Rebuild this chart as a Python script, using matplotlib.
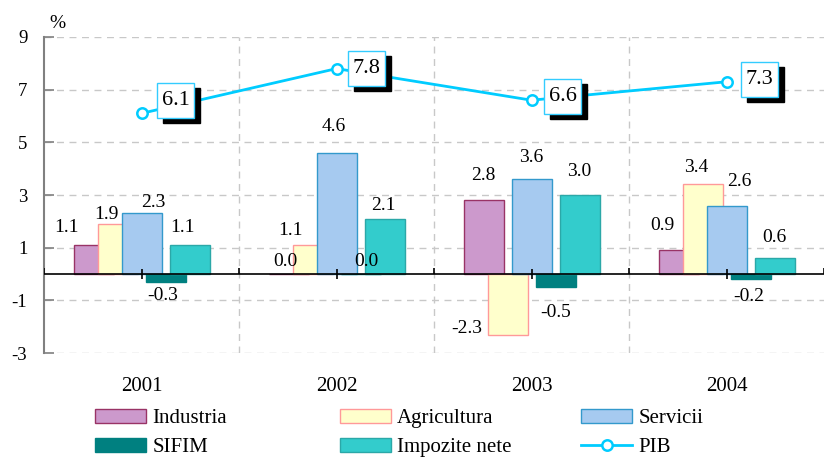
import numpy as np
import matplotlib
matplotlib.use("Agg")
import matplotlib.pyplot as plt
from matplotlib.patches import Patch
from matplotlib.lines import Line2D
from matplotlib.path import Path

plt.rcParams['font.family'] = ['Liberation Serif', 'DejaVu Serif']
plt.rcParams['axes.unicode_minus'] = False

# data
years = ['2001', '2002', '2003', '2004']
industria = [1.1, 0.0, 2.8, 0.9]
agricultura = [1.9, 1.1, -2.3, 3.4]
servicii = [2.3, 4.6, 3.6, 2.6]
sifim = [-0.3, 0.0, -0.5, -0.2]
impozite = [1.1, 2.1, 3.0, 0.6]
pib = [6.1, 7.8, 6.6, 7.3]

names = ['Industria', 'Agricultura', 'Servicii', 'SIFIM', 'Impozite nete']
series = [industria, agricultura, servicii, sifim, impozite]
fills = ['#CC99CC', '#FFFFCC', '#A6CAF0', '#008080', '#33CCCC']
edges = ['#993366', '#FF9999', '#3399CC', '#008080', '#2BA8A8']

# hand nudges for the value labels (pixels, dx / dy up), per series per year
nudges = [
    [(-27, -6), (-3, -11), (0, 1), (-16, 1)],
    [(-11, -15), (-22, -9), (-41, 30), (-6, -7)],
    [(12, -13), (-3, 2), (0, -2), (13, 0)],
    [(-3, 10), (6, -11), (0, -1), (-2, 7)],
    [(-7, -6), (-1, -11), (0, -1), (0, -3)],
]
pib_off = [(34, 13), (30, 0), (31, 4), (33, 2)]


def tall_box(x0, y0, width, height, mutation_size):
    # box a bit taller than the text, like the excel callouts
    px, py = 0.2 * mutation_size, 0.36 * mutation_size
    x0, y0 = x0 - px, y0 - py
    x1, y1 = x0 + width + 2 * px, y0 + height + 2 * py
    return Path([(x0, y0), (x1, y0), (x1, y1), (x0, y1), (x0, y0)], closed=True)


W, H = 824, 458
fig = plt.figure(figsize=(W / 100, H / 100), dpi=100)
ax = fig.add_axes([44 / W, 1 - 353 / H, 780 / W, 316 / H])

centers = np.arange(len(years)) + 0.5
step = 24 / 195
width = 40 / 195

for i, (nm, vals) in enumerate(zip(names, series)):
    xs = centers + (i - 2) * step
    ax.bar(xs, vals, width=width, color=fills[i], edgecolor=edges[i],
           linewidth=1, zorder=3 + i * 0.1)
    for j, v in enumerate(vals):
        dx, dy = nudges[i][j]
        base = 24 if v >= 0 else -24
        ax.annotate(f'{v:.1f}', (xs[j], v), xytext=(dx, base + dy),
                    textcoords='offset pixels', ha='center', va='center',
                    fontsize=14, zorder=6)

# zero line with its ticks
ax.axhline(0, color='black', lw=1.2, zorder=4)
ax.plot(np.arange(len(years) + 1), np.zeros(len(years) + 1), ls='none',
        marker=2, ms=4.5, mew=1.2, color='black', zorder=4)
ax.plot(centers, np.zeros(len(years)), ls='none', marker='|', ms=7.5,
        mew=1.2, color='black', zorder=4)

# PIB line
ax.plot(centers, pib, color='#00CCFF', lw=2, marker='o', ms=7.5,
        mfc='white', mec='#00CCFF', mew=1.8, zorder=7)
for j, v in enumerate(pib):
    dx, dy = pib_off[j]
    ax.annotate(f'{v:.1f}', (centers[j], v), xytext=(dx + 6, dy - 5),
                textcoords='offset pixels', ha='center', va='center',
                fontsize=16, color='black', zorder=8,
                bbox=dict(boxstyle=tall_box, fc='black', ec='black', lw=1))
    ax.annotate(f'{v:.1f}', (centers[j], v), xytext=(dx, dy),
                textcoords='offset pixels', ha='center', va='center',
                fontsize=16, color='black', zorder=9,
                bbox=dict(boxstyle=tall_box, fc='white', ec='#33CCFF', lw=1))

ax.set_xlim(0, 4)
ax.set_ylim(-3, 9)
ax.set_yticks([-3, -1, 1, 3, 5, 7, 9])
ax.set_xticks(centers)
ax.set_xticklabels(years, fontsize=15)
ax.set_xticks([1, 2, 3], minor=True)
ax.tick_params(axis='x', which='both', length=0, pad=17)
ax.tick_params(axis='y', direction='in', length=7, width=1.2, color='#808080',
               labelsize=13.5, pad=12)
ax.grid(axis='y', which='major', ls=(0, (5, 4)), color='#C8C8C8', lw=1, zorder=0)
ax.grid(axis='x', which='minor', ls=(0, (5, 4)), color='#C8C8C8', lw=1, zorder=0)
for s in ['top', 'right', 'bottom']:
    ax.spines[s].set_visible(False)
ax.spines['left'].set_color('#808080')
ax.spines['left'].set_linewidth(1.5)

fig.text(57 / W, 1 - 23 / H, '%', fontsize=14, ha='center', va='center')

# legend as three columns
handles = [Patch(fc=fills[i], ec=edges[i], lw=1) for i in range(5)]
handles.append(Line2D([], [], color='#00CCFF', lw=2, marker='o', ms=7.5,
                      mfc='white', mec='#00CCFF', mew=1.8))
labels = names + ['PIB']
cols = [[0, 3], [1, 4], [2, 5]]
col_x = [95, 340, 581]
for cx, idx in zip(col_x, cols):
    fig.legend([handles[k] for k in idx], [labels[k] for k in idx],
               loc='upper left', bbox_to_anchor=(cx / W, 1 - 409 / H),
               frameon=False, fontsize=15, borderpad=0, borderaxespad=0,
               handlelength=2.45, handleheight=0.67, handletextpad=0.3,
               labelspacing=0.45, numpoints=1)

fig.savefig('out.png', dpi=100)
